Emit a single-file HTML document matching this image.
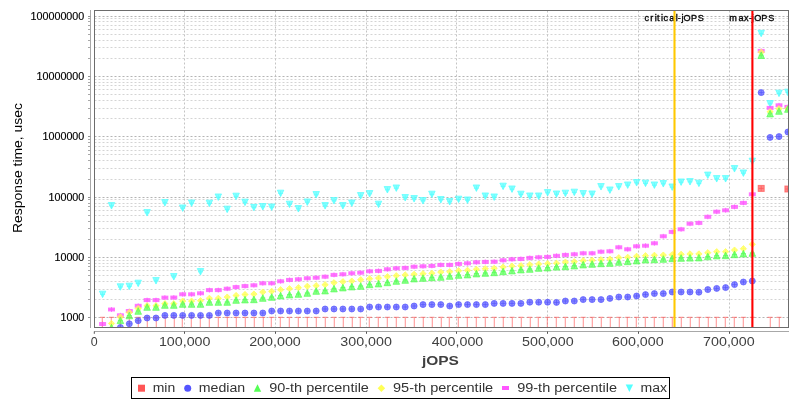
<!DOCTYPE html>
<html><head><meta charset="utf-8"><title>Response time vs jOPS</title>
<style>html,body{margin:0;padding:0;background:#fff;}svg{display:block;}text{font-family:"Liberation Sans",sans-serif;}</style></head><body>
<svg width="800" height="400" viewBox="0 0 800 400" style="will-change:transform">
<rect x="0" y="0" width="800" height="400" fill="#ffffff"/>
<defs><clipPath id="pc"><rect x="94.5" y="10.5" width="694" height="317"/></clipPath></defs>
<g clip-path="url(#pc)" fill="none" stroke-dasharray="2 2" shape-rendering="auto">
<path stroke="#d4d4d4" stroke-width="1" d="M94.5 299.5H788.5M94.5 289.5H788.5M94.5 281.5H788.5M94.5 275.5H788.5M94.5 270.5H788.5M94.5 266.5H788.5M94.5 263.5H788.5M94.5 260.5H788.5M94.5 239.5H788.5M94.5 228.5H788.5M94.5 221.5H788.5M94.5 215.5H788.5M94.5 210.5H788.5M94.5 206.5H788.5M94.5 203.5H788.5M94.5 199.5H788.5M94.5 179.5H788.5M94.5 168.5H788.5M94.5 160.5H788.5M94.5 154.5H788.5M94.5 150.5H788.5M94.5 146.5H788.5M94.5 142.5H788.5M94.5 139.5H788.5M94.5 118.5H788.5M94.5 108.5H788.5M94.5 100.5H788.5M94.5 94.5H788.5M94.5 89.5H788.5M94.5 85.5H788.5M94.5 82.5H788.5M94.5 79.5H788.5M94.5 58.5H788.5M94.5 47.5H788.5M94.5 40.5H788.5M94.5 34.5H788.5M94.5 29.5H788.5M94.5 25.5H788.5M94.5 21.5H788.5M94.5 18.5H788.5"/>
<path stroke="#b4b4b4" stroke-width="1" d="M94.5 317.5H788.5M94.5 257.5H788.5M94.5 197.5H788.5M94.5 136.5H788.5M94.5 76.5H788.5M94.5 16.5H788.5"/>
<path stroke="#c4c4c4" stroke-width="1" d="M184.5 10.5V327.5M275.5 10.5V327.5M366.5 10.5V327.5M456.5 10.5V327.5M547.5 10.5V327.5M638.5 10.5V327.5M729.5 10.5V327.5"/>
</g>
<g font-size="9.1" fill="#000" stroke="#000" stroke-width="0.32">
<text x="644.4 650.3 654.7 657.1 661.1 663.4 669.3 675.8 677.8 681.5 683.4 690.9 697.8" y="20.8">critical-jOPS</text>
<text x="729.2 738.4 744 749.1 751.8 754.2 761.3 768.2" y="20.8">max-jOPS</text>
</g>
<g clip-path="url(#pc)">
<path fill="none" stroke="#55FFFF" stroke-opacity="0.7" stroke-width="1" d="M102.6 291.9V296.9M100.1 294.4H105.1M111.5 203.3V208.3M109 205.8H114M120.4 284.5V289.5M117.9 287H122.9M129.3 283.9V288.9M126.8 286.4H131.8M138.2 280.9V285.9M135.7 283.4H140.7M147.1 210.3V215.3M144.6 212.8H149.6M156 278.3V283.3M153.5 280.8H158.5M164.9 200.3V205.3M162.4 202.8H167.4M173.8 274.3V279.3M171.3 276.8H176.3M182.7 205.7V210.7M180.2 208.2H185.2M191.6 200.7V205.7M189.1 203.2H194.1M200.5 269.3V274.3M198 271.8H203M209.4 200.9V205.9M206.9 203.4H211.9M218.3 194.7V199.7M215.8 197.2H220.8M227.2 206.9V211.9M224.7 209.4H229.7M236.1 193.9V198.9M233.6 196.4H238.6M245 199.9V204.9M242.5 202.4H247.5M253.9 205.1V210.1M251.4 207.6H256.4M262.8 204.3V209.3M260.3 206.8H265.3M271.7 204.7V209.7M269.2 207.2H274.2M280.6 190.9V195.9M278.1 193.4H283.1M289.5 201.9V206.9M287 204.4H292M298.4 206.3V211.3M295.9 208.8H300.9M307.3 199.7V204.7M304.8 202.2H309.8M316.2 192.3V197.3M313.7 194.8H318.7M325.1 203.3V208.3M322.6 205.8H327.6M334 198.3V203.3M331.5 200.8H336.5M342.9 203.3V208.3M340.4 205.8H345.4M351.8 200.7V205.7M349.3 203.2H354.3M360.7 193.3V198.3M358.2 195.8H363.2M369.6 191.3V196.3M367.1 193.8H372.1M378.5 201.9V206.9M376 204.4H381M387.4 187.3V192.3M384.9 189.8H389.9M396.3 185.7V190.7M393.8 188.2H398.8M405.2 195.3V200.3M402.7 197.8H407.7M414.1 196.3V201.3M411.6 198.8H416.6M423 198.3V203.3M420.5 200.8H425.5M431.9 191.9V196.9M429.4 194.4H434.4M440.8 197.3V202.3M438.3 199.8H443.3M449.7 199.3V204.3M447.2 201.8H452.2M458.6 196.9V201.9M456.1 199.4H461.1M467.5 197.7V202.7M465 200.2H470M476.4 185.7V190.7M473.9 188.2H478.9M485.3 193.7V198.7M482.8 196.2H487.8M494.2 194.7V199.7M491.7 197.2H496.7M503.1 183.9V188.9M500.6 186.4H505.6M512 186.7V191.7M509.5 189.2H514.5M520.9 191.9V196.9M518.4 194.4H523.4M529.8 193.7V198.7M527.3 196.2H532.3M538.7 193.7V198.7M536.2 196.2H541.2M547.6 190.3V195.3M545.1 192.8H550.1M556.5 191.7V196.7M554 194.2H559M565.4 190.9V195.9M562.9 193.4H567.9M574.3 189.9V194.9M571.8 192.4H576.8M583.2 191.3V196.3M580.7 193.8H585.7M592.1 191.7V196.7M589.6 194.2H594.6M601 184.3V189.3M598.5 186.8H603.5M609.9 187.7V192.7M607.4 190.2H612.4M618.8 184.3V189.3M616.3 186.8H621.3M627.7 182.7V187.7M625.2 185.2H630.2M636.6 180.3V185.3M634.1 182.8H639.1M645.5 180.9V185.9M643 183.4H648M654.4 182.7V187.7M651.9 185.2H656.9M663.3 181.3V186.3M660.8 183.8H665.8M672.2 184.7V189.7M669.7 187.2H674.7M681.1 179.7V184.7M678.6 182.2H683.6M690 179.3V184.3M687.5 181.8H692.5M698.9 180.9V185.9M696.4 183.4H701.4M707.8 172.8V177.8M705.3 175.3H710.3M716.7 176.3V181.3M714.2 178.8H719.2M725.6 176.3V181.3M723.1 178.8H728.1M734.5 166.3V171.3M732 168.8H737M743.4 170.7V175.7M740.9 173.2H745.9M752.3 158.9V163.9M749.8 161.4H754.8M761.2 31.05V36.05M758.7 33.55H763.7M770.1 101.3V106.3M767.6 103.8H772.6M779 90.9V95.9M776.5 93.4H781.5M787.9 89.9V94.9M785.4 92.4H790.4"/>
<path fill="none" stroke="#FF55FF" stroke-opacity="0.7" stroke-width="1" d="M102.6 321.5V326.5M100.1 324H105.1M111.5 307V312M109 309.5H114M120.4 312.8V317.8M117.9 315.3H122.9M129.3 308.5V313.5M126.8 311H131.8M138.2 303.3V308.3M135.7 305.8H140.7M147.1 297.6V302.6M144.6 300.1H149.6M156 297.6V302.6M153.5 300.1H158.5M164.9 295.1V300.1M162.4 297.6H167.4M173.8 295V300M171.3 297.5H176.3M182.7 291.8V296.8M180.2 294.3H185.2M191.6 291.8V296.8M189.1 294.3H194.1M200.5 290.8V295.8M198 293.3H203M209.4 287.6V292.6M206.9 290.1H211.9M218.3 287.6V292.6M215.8 290.1H220.8M227.2 286.2V291.2M224.7 288.7H229.7M236.1 284.6V289.6M233.6 287.1H238.6M245 283.6V288.6M242.5 286.1H247.5M253.9 282.8V287.8M251.4 285.3H256.4M262.8 280.8V285.8M260.3 283.3H265.3M271.7 280.8V285.8M269.2 283.3H274.2M280.6 278.8V283.8M278.1 281.3H283.1M289.5 277.4V282.4M287 279.9H292M298.4 276.8V281.8M295.9 279.3H300.9M307.3 275.8V280.8M304.8 278.3H309.8M316.2 275.2V280.2M313.7 277.7H318.7M325.1 274.2V279.2M322.6 276.7H327.6M334 272.4V277.4M331.5 274.9H336.5M342.9 271.8V276.8M340.4 274.3H345.4M351.8 270.8V275.8M349.3 273.3H354.3M360.7 270.2V275.2M358.2 272.7H363.2M369.6 268.8V273.8M367.1 271.3H372.1M378.5 268.4V273.4M376 270.9H381M387.4 266.8V271.8M384.9 269.3H389.9M396.3 265.8V270.8M393.8 268.3H398.8M405.2 265.4V270.4M402.7 267.9H407.7M414.1 264.2V269.2M411.6 266.7H416.6M423 263.8V268.8M420.5 266.3H425.5M431.9 263.4V268.4M429.4 265.9H434.4M440.8 262.4V267.4M438.3 264.9H443.3M449.7 262.4V267.4M447.2 264.9H452.2M458.6 261.4V266.4M456.1 263.9H461.1M467.5 260.8V265.8M465 263.3H470M476.4 259.8V264.8M473.9 262.3H478.9M485.3 259.4V264.4M482.8 261.9H487.8M494.2 259.2V264.2M491.7 261.7H496.7M503.1 257.8V262.8M500.6 260.3H505.6M512 256.8V261.8M509.5 259.3H514.5M520.9 256.4V261.4M518.4 258.9H523.4M529.8 255.4V260.4M527.3 257.9H532.3M538.7 254.8V259.8M536.2 257.3H541.2M547.6 254.4V259.4M545.1 256.9H550.1M556.5 253.3V258.3M554 255.8H559M565.4 252.4V257.4M562.9 254.9H567.9M574.3 251.8V256.8M571.8 254.3H576.8M583.2 250.8V255.8M580.7 253.3H585.7M592.1 250.8V255.8M589.6 253.3H594.6M601 249.2V254.2M598.5 251.7H603.5M609.9 248.8V253.8M607.4 251.3H612.4M618.8 244.8V249.8M616.3 247.3H621.3M627.7 246.8V251.8M625.2 249.3H630.2M636.6 243.8V248.8M634.1 246.3H639.1M645.5 243.2V248.2M643 245.7H648M654.4 240.8V245.8M651.9 243.3H656.9M663.3 233.8V238.8M660.8 236.3H665.8M672.2 229.4V234.4M669.7 231.9H674.7M681.1 226.8V231.8M678.6 229.3H683.6M690 221.2V226.2M687.5 223.7H692.5M698.9 220.4V225.4M696.4 222.9H701.4M707.8 214.3V219.3M705.3 216.8H710.3M716.7 209.2V214.2M714.2 211.7H719.2M725.6 207.8V212.8M723.1 210.3H728.1M734.5 204.4V209.4M732 206.9H737M743.4 200.4V205.4M740.9 202.9H745.9M752.3 191.8V196.8M749.8 194.3H754.8M761.2 48.4V53.4M758.7 50.9H763.7M770.1 105.4V110.4M767.6 107.9H772.6M779 102.8V107.8M776.5 105.3H781.5M787.9 104.4V109.4M785.4 106.9H790.4"/>
<path fill="none" stroke="#FFFF55" stroke-opacity="0.7" stroke-width="1" d="M111.5 321V326M109 323.5H114M120.4 314.5V319.5M117.9 317H122.9M129.3 310V315M126.8 312.5H131.8M138.2 306V311M135.7 308.5H140.7M147.1 303.2V308.2M144.6 305.7H149.6M156 303.2V308.2M153.5 305.7H158.5M164.9 301.2V306.2M162.4 303.7H167.4M173.8 301.2V306.2M171.3 303.7H176.3M182.7 298.6V303.6M180.2 301.1H185.2M191.6 298.6V303.6M189.1 301.1H194.1M200.5 298.2V303.2M198 300.7H203M209.4 295.8V300.8M206.9 298.3H211.9M218.3 295.8V300.8M215.8 298.3H220.8M227.2 294.6V299.6M224.7 297.1H229.7M236.1 293V298M233.6 295.5H238.6M245 292V297M242.5 294.5H247.5M253.9 291.6V296.6M251.4 294.1H256.4M262.8 289.6V294.6M260.3 292.1H265.3M271.7 288.8V293.8M269.2 291.3H274.2M280.6 287.2V292.2M278.1 289.7H283.1M289.5 286.2V291.2M287 288.7H292M298.4 285.2V290.2M295.9 287.7H300.9M307.3 283.8V288.8M304.8 286.3H309.8M316.2 283.2V288.2M313.7 285.7H318.7M325.1 282.2V287.2M322.6 284.7H327.6M334 280.2V285.2M331.5 282.7H336.5M342.9 279.2V284.2M340.4 281.7H345.4M351.8 278.6V283.6M349.3 281.1H354.3M360.7 277.2V282.2M358.2 279.7H363.2M369.6 276.2V281.2M367.1 278.7H372.1M378.5 275.6V280.6M376 278.1H381M387.4 274.2V279.2M384.9 276.7H389.9M396.3 273.2V278.2M393.8 275.7H398.8M405.2 272.4V277.4M402.7 274.9H407.7M414.1 271.8V276.8M411.6 274.3H416.6M423 271.2V276.2M420.5 273.7H425.5M431.9 270.8V275.8M429.4 273.3H434.4M440.8 269.6V274.6M438.3 272.1H443.3M449.7 269.2V274.2M447.2 271.7H452.2M458.6 268.2V273.2M456.1 270.7H461.1M467.5 267.8V272.8M465 270.3H470M476.4 266.8V271.8M473.9 269.3H478.9M485.3 266.2V271.2M482.8 268.7H487.8M494.2 265.8V270.8M491.7 268.3H496.7M503.1 264.6V269.6M500.6 267.1H505.6M512 263.6V268.6M509.5 266.1H514.5M520.9 263.2V268.2M518.4 265.7H523.4M529.8 262.2V267.2M527.3 264.7H532.3M538.7 261.6V266.6M536.2 264.1H541.2M547.6 261.2V266.2M545.1 263.7H550.1M556.5 260.7V265.7M554 263.2H559M565.4 259.6V264.6M562.9 262.1H567.9M574.3 259.2V264.2M571.8 261.7H576.8M583.2 258.2V263.2M580.7 260.7H585.7M592.1 257.8V262.8M589.6 260.3H594.6M601 257.2V262.2M598.5 259.7H603.5M609.9 256.6V261.6M607.4 259.1H612.4M618.8 255.2V260.2M616.3 257.7H621.3M627.7 254.8V259.8M625.2 257.3H630.2M636.6 253.8V258.8M634.1 256.3H639.1M645.5 253.2V258.2M643 255.7H648M654.4 252.8V257.8M651.9 255.3H656.9M663.3 252.6V257.6M660.8 255.1H665.8M672.2 252.2V257.2M669.7 254.7H674.7M681.1 251.8V256.8M678.6 254.3H683.6M690 251.4V256.4M687.5 253.9H692.5M698.9 251.4V256.4M696.4 253.9H701.4M707.8 250.2V255.2M705.3 252.7H710.3M716.7 249.2V254.2M714.2 251.7H719.2M725.6 249.2V254.2M723.1 251.7H728.1M734.5 247.6V252.6M732 250.1H737M743.4 246.2V251.2M740.9 248.7H745.9M752.3 241.8V246.8M749.8 244.3H754.8M761.2 49.7V54.7M758.7 52.2H763.7M770.1 109.2V114.2M767.6 111.7H772.6M779 106.2V111.2M776.5 108.7H781.5M787.9 106.2V111.2M785.4 108.7H790.4"/>
<path fill="none" stroke="#55FF55" stroke-opacity="0.7" stroke-width="1" d="M111.5 325V330M109 327.5H114M120.4 317.8V322.8M117.9 320.3H122.9M129.3 313V318M126.8 315.5H131.8M138.2 308.5V313.5M135.7 311H140.7M147.1 304.5V309.5M144.6 307H149.6M156 304.5V309.5M153.5 307H158.5M164.9 302.5V307.5M162.4 305H167.4M173.8 302.5V307.5M171.3 305H176.3M182.7 301.5V306.5M180.2 304H185.2M191.6 301.5V306.5M189.1 304H194.1M200.5 301.5V306.5M198 304H203M209.4 299.5V304.5M206.9 302H211.9M218.3 299.5V304.5M215.8 302H220.8M227.2 299.5V304.5M224.7 302H229.7M236.1 297.5V302.5M233.6 300H238.6M245 297.1V302.1M242.5 299.6H247.5M253.9 296.9V301.9M251.4 299.4H256.4M262.8 295.5V300.5M260.3 298H265.3M271.7 294.5V299.5M269.2 297H274.2M280.6 293.1V298.1M278.1 295.6H283.1M289.5 292.1V297.1M287 294.6H292M298.4 291.5V296.5M295.9 294H300.9M307.3 290.5V295.5M304.8 293H309.8M316.2 288.5V293.5M313.7 291H318.7M325.1 288.1V293.1M322.6 290.6H327.6M334 286.1V291.1M331.5 288.6H336.5M342.9 285.1V290.1M340.4 287.6H345.4M351.8 284.1V289.1M349.3 286.6H354.3M360.7 283.5V288.5M358.2 286H363.2M369.6 281.9V286.9M367.1 284.4H372.1M378.5 281.1V286.1M376 283.6H381M387.4 279.9V284.9M384.9 282.4H389.9M396.3 278.5V283.5M393.8 281H398.8M405.2 277.5V282.5M402.7 280H407.7M414.1 276.1V281.1M411.6 278.6H416.6M423 275.5V280.5M420.5 278H425.5M431.9 274.9V279.9M429.4 277.4H434.4M440.8 274.5V279.5M438.3 277H443.3M449.7 273.5V278.5M447.2 276H452.2M458.6 272.5V277.5M456.1 275H461.1M467.5 272.1V277.1M465 274.6H470M476.4 271.1V276.1M473.9 273.6H478.9M485.3 270.5V275.5M482.8 273H487.8M494.2 269.9V274.9M491.7 272.4H496.7M503.1 268.9V273.9M500.6 271.4H505.6M512 268.1V273.1M509.5 270.6H514.5M520.9 267.1V272.1M518.4 269.6H523.4M529.8 266.5V271.5M527.3 269H532.3M538.7 265.5V270.5M536.2 268H541.2M547.6 265.1V270.1M545.1 267.6H550.1M556.5 264.3V269.3M554 266.8H559M565.4 263.9V268.9M562.9 266.4H567.9M574.3 263.1V268.1M571.8 265.6H576.8M583.2 262.1V267.1M580.7 264.6H585.7M592.1 261.5V266.5M589.6 264H594.6M601 260.9V265.9M598.5 263.4H603.5M609.9 260.5V265.5M607.4 263H612.4M618.8 259.5V264.5M616.3 262H621.3M627.7 258.9V263.9M625.2 261.4H630.2M636.6 258.1V263.1M634.1 260.6H639.1M645.5 257.1V262.1M643 259.6H648M654.4 256.9V261.9M651.9 259.4H656.9M663.3 256.5V261.5M660.8 259H665.8M672.2 255.9V260.9M669.7 258.4H674.7M681.1 255.5V260.5M678.6 258H683.6M690 255.3V260.3M687.5 257.8H692.5M698.9 255.1V260.1M696.4 257.6H701.4M707.8 254V259M705.3 256.5H710.3M716.7 253.1V258.1M714.2 255.6H719.2M725.6 252.9V257.9M723.1 255.4H728.1M734.5 251.9V256.9M732 254.4H737M743.4 251.1V256.1M740.9 253.6H745.9M752.3 250.5V255.5M749.8 253H754.8M761.2 52.7V57.7M758.7 55.2H763.7M770.1 111.1V116.1M767.6 113.6H772.6M779 108.5V113.5M776.5 111H781.5M787.9 106.5V111.5M785.4 109H790.4"/>
<path fill="none" stroke="#5555FF" stroke-opacity="0.7" stroke-width="1" d="M120.4 325V330M117.9 327.5H122.9M129.3 321.3V326.3M126.8 323.8H131.8M138.2 318.2V323.2M135.7 320.7H140.7M147.1 315.5V320.5M144.6 318H149.6M156 315.5V320.5M153.5 318H158.5M164.9 312.9V317.9M162.4 315.4H167.4M173.8 312.9V317.9M171.3 315.4H176.3M182.7 312.9V317.9M180.2 315.4H185.2M191.6 312.9V317.9M189.1 315.4H194.1M200.5 312.9V317.9M198 315.4H203M209.4 312.9V317.9M206.9 315.4H211.9M218.3 310.5V315.5M215.8 313H220.8M227.2 310.5V315.5M224.7 313H229.7M236.1 310.5V315.5M233.6 313H238.6M245 310.5V315.5M242.5 313H247.5M253.9 310.5V315.5M251.4 313H256.4M262.8 310.5V315.5M260.3 313H265.3M271.7 308.5V313.5M269.2 311H274.2M280.6 308.5V313.5M278.1 311H283.1M289.5 308.5V313.5M287 311H292M298.4 308.5V313.5M295.9 311H300.9M307.3 308.5V313.5M304.8 311H309.8M316.2 308.5V313.5M313.7 311H318.7M325.1 306.5V311.5M322.6 309H327.6M334 306.5V311.5M331.5 309H336.5M342.9 306.5V311.5M340.4 309H345.4M351.8 306.5V311.5M349.3 309H354.3M360.7 306.5V311.5M358.2 309H363.2M369.6 304.5V309.5M367.1 307H372.1M378.5 304.5V309.5M376 307H381M387.4 304.5V309.5M384.9 307H389.9M396.3 304.5V309.5M393.8 307H398.8M405.2 304.5V309.5M402.7 307H407.7M414.1 303.5V308.5M411.6 306H416.6M423 302.1V307.1M420.5 304.6H425.5M431.9 302.1V307.1M429.4 304.6H434.4M440.8 302.1V307.1M438.3 304.6H443.3M449.7 303.5V308.5M447.2 306H452.2M458.6 302.1V307.1M456.1 304.6H461.1M467.5 302.1V307.1M465 304.6H470M476.4 302.1V307.1M473.9 304.6H478.9M485.3 302.1V307.1M482.8 304.6H487.8M494.2 300.9V305.9M491.7 303.4H496.7M503.1 300.9V305.9M500.6 303.4H505.6M512 300.9V305.9M509.5 303.4H514.5M520.9 300.9V305.9M518.4 303.4H523.4M529.8 299.7V304.7M527.3 302.2H532.3M538.7 299.7V304.7M536.2 302.2H541.2M547.6 299.7V304.7M545.1 302.2H550.1M556.5 299.9V304.9M554 302.4H559M565.4 298.5V303.5M562.9 301H567.9M574.3 298.5V303.5M571.8 301H576.8M583.2 297.1V302.1M580.7 299.6H585.7M592.1 297.1V302.1M589.6 299.6H594.6M601 297.1V302.1M598.5 299.6H603.5M609.9 295.9V300.9M607.4 298.4H612.4M618.8 294.5V299.5M616.3 297H621.3M627.7 294.5V299.5M625.2 297H630.2M636.6 293.5V298.5M634.1 296H639.1M645.5 292.1V297.1M643 294.6H648M654.4 291.1V296.1M651.9 293.6H656.9M663.3 291.1V296.1M660.8 293.6H665.8M672.2 289.5V294.5M669.7 292H674.7M681.1 289.5V294.5M678.6 292H683.6M690 289.5V294.5M687.5 292H692.5M698.9 289.7V294.7M696.4 292.2H701.4M707.8 287.1V292.1M705.3 289.6H710.3M716.7 285.9V290.9M714.2 288.4H719.2M725.6 285.1V290.1M723.1 287.6H728.1M734.5 282.1V287.1M732 284.6H737M743.4 279.5V284.5M740.9 282H745.9M752.3 278.5V283.5M749.8 281H754.8M761.2 90.1V95.1M758.7 92.6H763.7M770.1 134.9V139.9M767.6 137.4H772.6M779 134.1V139.1M776.5 136.6H781.5M787.9 129.5V134.5M785.4 132H790.4"/>
<path fill="none" stroke="#FF5555" stroke-opacity="0.6" stroke-width="1.1" d="M100.1 317.4H105.1M102.3 317.4V327.5M109 317.4H114M111.3 317.4V327.5M117.9 317.4H122.9M120.3 317.4V327.5M126.8 317.4H131.8M129.3 317.4V327.5M135.7 317.4H140.7M138.3 317.4V327.5M144.6 317.4H149.6M147.3 317.4V327.5M153.5 317.4H158.5M156.3 317.4V327.5M162.4 317.4H167.4M165.3 317.4V327.5M171.3 317.4H176.3M174.3 317.4V327.5M180.2 317.4H185.2M182.3 317.4V327.5M189.1 317.4H194.1M191.3 317.4V327.5M198 317.4H203M200.3 317.4V327.5M206.9 317.4H211.9M209.3 317.4V327.5M215.8 317.4H220.8M218.3 317.4V327.5M224.7 317.4H229.7M227.3 317.4V327.5M233.6 317.4H238.6M236.3 317.4V327.5M242.5 317.4H247.5M245.3 317.4V327.5M251.4 317.4H256.4M254.3 317.4V327.5M260.3 317.4H265.3M263.3 317.4V327.5M269.2 317.4H274.2M271.3 317.4V327.5M278.1 317.4H283.1M280.3 317.4V327.5M287 317.4H292M289.3 317.4V327.5M295.9 317.4H300.9M298.3 317.4V327.5M304.8 317.4H309.8M307.3 317.4V327.5M313.7 317.4H318.7M316.3 317.4V327.5M322.6 317.4H327.6M325.3 317.4V327.5M331.5 317.4H336.5M334.3 317.4V327.5M340.4 317.4H345.4M343.3 317.4V327.5M349.3 317.4H354.3M352.3 317.4V327.5M358.2 317.4H363.2M360.3 317.4V327.5M367.1 317.4H372.1M369.3 317.4V327.5M376 317.4H381M378.3 317.4V327.5M384.9 317.4H389.9M387.3 317.4V327.5M393.8 317.4H398.8M396.3 317.4V327.5M402.7 317.4H407.7M405.3 317.4V327.5M411.6 317.4H416.6M414.3 317.4V327.5M420.5 317.4H425.5M423.3 317.4V327.5M429.4 317.4H434.4M432.3 317.4V327.5M438.3 317.4H443.3M441.3 317.4V327.5M447.2 317.4H452.2M449.3 317.4V327.5M456.1 317.4H461.1M458.3 317.4V327.5M465 317.4H470M467.3 317.4V327.5M473.9 317.4H478.9M476.3 317.4V327.5M482.8 317.4H487.8M485.3 317.4V327.5M491.7 317.4H496.7M494.3 317.4V327.5M500.6 317.4H505.6M503.3 317.4V327.5M509.5 317.4H514.5M512.3 317.4V327.5M518.4 317.4H523.4M521.3 317.4V327.5M527.3 317.4H532.3M530.3 317.4V327.5M536.2 317.4H541.2M538.3 317.4V327.5M545.1 317.4H550.1M547.3 317.4V327.5M554 317.4H559M556.3 317.4V327.5M562.9 317.4H567.9M565.3 317.4V327.5M571.8 317.4H576.8M574.3 317.4V327.5M580.7 317.4H585.7M583.3 317.4V327.5M589.6 317.4H594.6M592.3 317.4V327.5M598.5 317.4H603.5M601.3 317.4V327.5M607.4 317.4H612.4M610.3 317.4V327.5M616.3 317.4H621.3M619.3 317.4V327.5M625.2 317.4H630.2M627.3 317.4V327.5M634.1 317.4H639.1M636.3 317.4V327.5M643 317.4H648M645.3 317.4V327.5M651.9 317.4H656.9M654.3 317.4V327.5M660.8 317.4H665.8M663.3 317.4V327.5M669.7 317.4H674.7M672.3 317.4V327.5M678.6 317.4H683.6M681.3 317.4V327.5M687.5 317.4H692.5M690.3 317.4V327.5M696.4 317.4H701.4M699.3 317.4V327.5M705.3 317.4H710.3M708.3 317.4V327.5M714.2 317.4H719.2M716.3 317.4V327.5M723.1 317.4H728.1M725.3 317.4V327.5M732 317.4H737M734.3 317.4V327.5M740.9 317.4H745.9M743.3 317.4V327.5M749.8 317.4H754.8M752.3 317.4V327.5M767.6 317.4H772.6M770.3 317.4V327.5M776.5 317.4H781.5M779.3 317.4V327.5"/>
<path fill="none" stroke="#FF5555" stroke-opacity="0.7" stroke-width="1" d="M761.2 185.9V190.9M758.7 188.4H763.7M787.9 186.5V191.5M785.4 189H790.4"/>
<g fill="#55FFFF" fill-opacity="0.7" stroke="#55FFFF" stroke-opacity="0.7" stroke-width="1">
<path d="M99.35 291.15L105.85 291.15L102.6 297.65Z"/>
<path d="M108.25 202.55L114.75 202.55L111.5 209.05Z"/>
<path d="M117.15 283.75L123.65 283.75L120.4 290.25Z"/>
<path d="M126.05 283.15L132.55 283.15L129.3 289.65Z"/>
<path d="M134.95 280.15L141.45 280.15L138.2 286.65Z"/>
<path d="M143.85 209.55L150.35 209.55L147.1 216.05Z"/>
<path d="M152.75 277.55L159.25 277.55L156 284.05Z"/>
<path d="M161.65 199.55L168.15 199.55L164.9 206.05Z"/>
<path d="M170.55 273.55L177.05 273.55L173.8 280.05Z"/>
<path d="M179.45 204.95L185.95 204.95L182.7 211.45Z"/>
<path d="M188.35 199.95L194.85 199.95L191.6 206.45Z"/>
<path d="M197.25 268.55L203.75 268.55L200.5 275.05Z"/>
<path d="M206.15 200.15L212.65 200.15L209.4 206.65Z"/>
<path d="M215.05 193.95L221.55 193.95L218.3 200.45Z"/>
<path d="M223.95 206.15L230.45 206.15L227.2 212.65Z"/>
<path d="M232.85 193.15L239.35 193.15L236.1 199.65Z"/>
<path d="M241.75 199.15L248.25 199.15L245 205.65Z"/>
<path d="M250.65 204.35L257.15 204.35L253.9 210.85Z"/>
<path d="M259.55 203.55L266.05 203.55L262.8 210.05Z"/>
<path d="M268.45 203.95L274.95 203.95L271.7 210.45Z"/>
<path d="M277.35 190.15L283.85 190.15L280.6 196.65Z"/>
<path d="M286.25 201.15L292.75 201.15L289.5 207.65Z"/>
<path d="M295.15 205.55L301.65 205.55L298.4 212.05Z"/>
<path d="M304.05 198.95L310.55 198.95L307.3 205.45Z"/>
<path d="M312.95 191.55L319.45 191.55L316.2 198.05Z"/>
<path d="M321.85 202.55L328.35 202.55L325.1 209.05Z"/>
<path d="M330.75 197.55L337.25 197.55L334 204.05Z"/>
<path d="M339.65 202.55L346.15 202.55L342.9 209.05Z"/>
<path d="M348.55 199.95L355.05 199.95L351.8 206.45Z"/>
<path d="M357.45 192.55L363.95 192.55L360.7 199.05Z"/>
<path d="M366.35 190.55L372.85 190.55L369.6 197.05Z"/>
<path d="M375.25 201.15L381.75 201.15L378.5 207.65Z"/>
<path d="M384.15 186.55L390.65 186.55L387.4 193.05Z"/>
<path d="M393.05 184.95L399.55 184.95L396.3 191.45Z"/>
<path d="M401.95 194.55L408.45 194.55L405.2 201.05Z"/>
<path d="M410.85 195.55L417.35 195.55L414.1 202.05Z"/>
<path d="M419.75 197.55L426.25 197.55L423 204.05Z"/>
<path d="M428.65 191.15L435.15 191.15L431.9 197.65Z"/>
<path d="M437.55 196.55L444.05 196.55L440.8 203.05Z"/>
<path d="M446.45 198.55L452.95 198.55L449.7 205.05Z"/>
<path d="M455.35 196.15L461.85 196.15L458.6 202.65Z"/>
<path d="M464.25 196.95L470.75 196.95L467.5 203.45Z"/>
<path d="M473.15 184.95L479.65 184.95L476.4 191.45Z"/>
<path d="M482.05 192.95L488.55 192.95L485.3 199.45Z"/>
<path d="M490.95 193.95L497.45 193.95L494.2 200.45Z"/>
<path d="M499.85 183.15L506.35 183.15L503.1 189.65Z"/>
<path d="M508.75 185.95L515.25 185.95L512 192.45Z"/>
<path d="M517.65 191.15L524.15 191.15L520.9 197.65Z"/>
<path d="M526.55 192.95L533.05 192.95L529.8 199.45Z"/>
<path d="M535.45 192.95L541.95 192.95L538.7 199.45Z"/>
<path d="M544.35 189.55L550.85 189.55L547.6 196.05Z"/>
<path d="M553.25 190.95L559.75 190.95L556.5 197.45Z"/>
<path d="M562.15 190.15L568.65 190.15L565.4 196.65Z"/>
<path d="M571.05 189.15L577.55 189.15L574.3 195.65Z"/>
<path d="M579.95 190.55L586.45 190.55L583.2 197.05Z"/>
<path d="M588.85 190.95L595.35 190.95L592.1 197.45Z"/>
<path d="M597.75 183.55L604.25 183.55L601 190.05Z"/>
<path d="M606.65 186.95L613.15 186.95L609.9 193.45Z"/>
<path d="M615.55 183.55L622.05 183.55L618.8 190.05Z"/>
<path d="M624.45 181.95L630.95 181.95L627.7 188.45Z"/>
<path d="M633.35 179.55L639.85 179.55L636.6 186.05Z"/>
<path d="M642.25 180.15L648.75 180.15L645.5 186.65Z"/>
<path d="M651.15 181.95L657.65 181.95L654.4 188.45Z"/>
<path d="M660.05 180.55L666.55 180.55L663.3 187.05Z"/>
<path d="M668.95 183.95L675.45 183.95L672.2 190.45Z"/>
<path d="M677.85 178.95L684.35 178.95L681.1 185.45Z"/>
<path d="M686.75 178.55L693.25 178.55L690 185.05Z"/>
<path d="M695.65 180.15L702.15 180.15L698.9 186.65Z"/>
<path d="M704.55 172.05L711.05 172.05L707.8 178.55Z"/>
<path d="M713.45 175.55L719.95 175.55L716.7 182.05Z"/>
<path d="M722.35 175.55L728.85 175.55L725.6 182.05Z"/>
<path d="M731.25 165.55L737.75 165.55L734.5 172.05Z"/>
<path d="M740.15 169.95L746.65 169.95L743.4 176.45Z"/>
<path d="M749.05 158.15L755.55 158.15L752.3 164.65Z"/>
<path d="M757.95 30.3L764.45 30.3L761.2 36.8Z"/>
<path d="M766.85 100.55L773.35 100.55L770.1 107.05Z"/>
<path d="M775.75 90.15L782.25 90.15L779 96.65Z"/>
<path d="M784.65 89.15L791.15 89.15L787.9 95.65Z"/>
</g>
<g fill="#FF55FF" fill-opacity="0.7" stroke="#FF55FF" stroke-opacity="0.7" stroke-width="1">
<rect x="99.6" y="322.5" width="6" height="3"/>
<rect x="108.5" y="308" width="6" height="3"/>
<rect x="117.4" y="313.8" width="6" height="3"/>
<rect x="126.3" y="309.5" width="6" height="3"/>
<rect x="135.2" y="304.3" width="6" height="3"/>
<rect x="144.1" y="298.6" width="6" height="3"/>
<rect x="153" y="298.6" width="6" height="3"/>
<rect x="161.9" y="296.1" width="6" height="3"/>
<rect x="170.8" y="296" width="6" height="3"/>
<rect x="179.7" y="292.8" width="6" height="3"/>
<rect x="188.6" y="292.8" width="6" height="3"/>
<rect x="197.5" y="291.8" width="6" height="3"/>
<rect x="206.4" y="288.6" width="6" height="3"/>
<rect x="215.3" y="288.6" width="6" height="3"/>
<rect x="224.2" y="287.2" width="6" height="3"/>
<rect x="233.1" y="285.6" width="6" height="3"/>
<rect x="242" y="284.6" width="6" height="3"/>
<rect x="250.9" y="283.8" width="6" height="3"/>
<rect x="259.8" y="281.8" width="6" height="3"/>
<rect x="268.7" y="281.8" width="6" height="3"/>
<rect x="277.6" y="279.8" width="6" height="3"/>
<rect x="286.5" y="278.4" width="6" height="3"/>
<rect x="295.4" y="277.8" width="6" height="3"/>
<rect x="304.3" y="276.8" width="6" height="3"/>
<rect x="313.2" y="276.2" width="6" height="3"/>
<rect x="322.1" y="275.2" width="6" height="3"/>
<rect x="331" y="273.4" width="6" height="3"/>
<rect x="339.9" y="272.8" width="6" height="3"/>
<rect x="348.8" y="271.8" width="6" height="3"/>
<rect x="357.7" y="271.2" width="6" height="3"/>
<rect x="366.6" y="269.8" width="6" height="3"/>
<rect x="375.5" y="269.4" width="6" height="3"/>
<rect x="384.4" y="267.8" width="6" height="3"/>
<rect x="393.3" y="266.8" width="6" height="3"/>
<rect x="402.2" y="266.4" width="6" height="3"/>
<rect x="411.1" y="265.2" width="6" height="3"/>
<rect x="420" y="264.8" width="6" height="3"/>
<rect x="428.9" y="264.4" width="6" height="3"/>
<rect x="437.8" y="263.4" width="6" height="3"/>
<rect x="446.7" y="263.4" width="6" height="3"/>
<rect x="455.6" y="262.4" width="6" height="3"/>
<rect x="464.5" y="261.8" width="6" height="3"/>
<rect x="473.4" y="260.8" width="6" height="3"/>
<rect x="482.3" y="260.4" width="6" height="3"/>
<rect x="491.2" y="260.2" width="6" height="3"/>
<rect x="500.1" y="258.8" width="6" height="3"/>
<rect x="509" y="257.8" width="6" height="3"/>
<rect x="517.9" y="257.4" width="6" height="3"/>
<rect x="526.8" y="256.4" width="6" height="3"/>
<rect x="535.7" y="255.8" width="6" height="3"/>
<rect x="544.6" y="255.4" width="6" height="3"/>
<rect x="553.5" y="254.3" width="6" height="3"/>
<rect x="562.4" y="253.4" width="6" height="3"/>
<rect x="571.3" y="252.8" width="6" height="3"/>
<rect x="580.2" y="251.8" width="6" height="3"/>
<rect x="589.1" y="251.8" width="6" height="3"/>
<rect x="598" y="250.2" width="6" height="3"/>
<rect x="606.9" y="249.8" width="6" height="3"/>
<rect x="615.8" y="245.8" width="6" height="3"/>
<rect x="624.7" y="247.8" width="6" height="3"/>
<rect x="633.6" y="244.8" width="6" height="3"/>
<rect x="642.5" y="244.2" width="6" height="3"/>
<rect x="651.4" y="241.8" width="6" height="3"/>
<rect x="660.3" y="234.8" width="6" height="3"/>
<rect x="669.2" y="230.4" width="6" height="3"/>
<rect x="678.1" y="227.8" width="6" height="3"/>
<rect x="687" y="222.2" width="6" height="3"/>
<rect x="695.9" y="221.4" width="6" height="3"/>
<rect x="704.8" y="215.3" width="6" height="3"/>
<rect x="713.7" y="210.2" width="6" height="3"/>
<rect x="722.6" y="208.8" width="6" height="3"/>
<rect x="731.5" y="205.4" width="6" height="3"/>
<rect x="740.4" y="201.4" width="6" height="3"/>
<rect x="749.3" y="192.8" width="6" height="3"/>
<rect x="758.2" y="49.4" width="6" height="3"/>
<rect x="767.1" y="106.4" width="6" height="3"/>
<rect x="776" y="103.8" width="6" height="3"/>
<rect x="784.9" y="105.4" width="6" height="3"/>
</g>
<g fill="#FFFF55" fill-opacity="0.7" stroke="#FFFF55" stroke-opacity="0.7" stroke-width="1">
<path d="M111.5 320.35L114.65 323.5L111.5 326.65L108.35 323.5Z"/>
<path d="M120.4 313.85L123.55 317L120.4 320.15L117.25 317Z"/>
<path d="M129.3 309.35L132.45 312.5L129.3 315.65L126.15 312.5Z"/>
<path d="M138.2 305.35L141.35 308.5L138.2 311.65L135.05 308.5Z"/>
<path d="M147.1 302.55L150.25 305.7L147.1 308.85L143.95 305.7Z"/>
<path d="M156 302.55L159.15 305.7L156 308.85L152.85 305.7Z"/>
<path d="M164.9 300.55L168.05 303.7L164.9 306.85L161.75 303.7Z"/>
<path d="M173.8 300.55L176.95 303.7L173.8 306.85L170.65 303.7Z"/>
<path d="M182.7 297.95L185.85 301.1L182.7 304.25L179.55 301.1Z"/>
<path d="M191.6 297.95L194.75 301.1L191.6 304.25L188.45 301.1Z"/>
<path d="M200.5 297.55L203.65 300.7L200.5 303.85L197.35 300.7Z"/>
<path d="M209.4 295.15L212.55 298.3L209.4 301.45L206.25 298.3Z"/>
<path d="M218.3 295.15L221.45 298.3L218.3 301.45L215.15 298.3Z"/>
<path d="M227.2 293.95L230.35 297.1L227.2 300.25L224.05 297.1Z"/>
<path d="M236.1 292.35L239.25 295.5L236.1 298.65L232.95 295.5Z"/>
<path d="M245 291.35L248.15 294.5L245 297.65L241.85 294.5Z"/>
<path d="M253.9 290.95L257.05 294.1L253.9 297.25L250.75 294.1Z"/>
<path d="M262.8 288.95L265.95 292.1L262.8 295.25L259.65 292.1Z"/>
<path d="M271.7 288.15L274.85 291.3L271.7 294.45L268.55 291.3Z"/>
<path d="M280.6 286.55L283.75 289.7L280.6 292.85L277.45 289.7Z"/>
<path d="M289.5 285.55L292.65 288.7L289.5 291.85L286.35 288.7Z"/>
<path d="M298.4 284.55L301.55 287.7L298.4 290.85L295.25 287.7Z"/>
<path d="M307.3 283.15L310.45 286.3L307.3 289.45L304.15 286.3Z"/>
<path d="M316.2 282.55L319.35 285.7L316.2 288.85L313.05 285.7Z"/>
<path d="M325.1 281.55L328.25 284.7L325.1 287.85L321.95 284.7Z"/>
<path d="M334 279.55L337.15 282.7L334 285.85L330.85 282.7Z"/>
<path d="M342.9 278.55L346.05 281.7L342.9 284.85L339.75 281.7Z"/>
<path d="M351.8 277.95L354.95 281.1L351.8 284.25L348.65 281.1Z"/>
<path d="M360.7 276.55L363.85 279.7L360.7 282.85L357.55 279.7Z"/>
<path d="M369.6 275.55L372.75 278.7L369.6 281.85L366.45 278.7Z"/>
<path d="M378.5 274.95L381.65 278.1L378.5 281.25L375.35 278.1Z"/>
<path d="M387.4 273.55L390.55 276.7L387.4 279.85L384.25 276.7Z"/>
<path d="M396.3 272.55L399.45 275.7L396.3 278.85L393.15 275.7Z"/>
<path d="M405.2 271.75L408.35 274.9L405.2 278.05L402.05 274.9Z"/>
<path d="M414.1 271.15L417.25 274.3L414.1 277.45L410.95 274.3Z"/>
<path d="M423 270.55L426.15 273.7L423 276.85L419.85 273.7Z"/>
<path d="M431.9 270.15L435.05 273.3L431.9 276.45L428.75 273.3Z"/>
<path d="M440.8 268.95L443.95 272.1L440.8 275.25L437.65 272.1Z"/>
<path d="M449.7 268.55L452.85 271.7L449.7 274.85L446.55 271.7Z"/>
<path d="M458.6 267.55L461.75 270.7L458.6 273.85L455.45 270.7Z"/>
<path d="M467.5 267.15L470.65 270.3L467.5 273.45L464.35 270.3Z"/>
<path d="M476.4 266.15L479.55 269.3L476.4 272.45L473.25 269.3Z"/>
<path d="M485.3 265.55L488.45 268.7L485.3 271.85L482.15 268.7Z"/>
<path d="M494.2 265.15L497.35 268.3L494.2 271.45L491.05 268.3Z"/>
<path d="M503.1 263.95L506.25 267.1L503.1 270.25L499.95 267.1Z"/>
<path d="M512 262.95L515.15 266.1L512 269.25L508.85 266.1Z"/>
<path d="M520.9 262.55L524.05 265.7L520.9 268.85L517.75 265.7Z"/>
<path d="M529.8 261.55L532.95 264.7L529.8 267.85L526.65 264.7Z"/>
<path d="M538.7 260.95L541.85 264.1L538.7 267.25L535.55 264.1Z"/>
<path d="M547.6 260.55L550.75 263.7L547.6 266.85L544.45 263.7Z"/>
<path d="M556.5 260.05L559.65 263.2L556.5 266.35L553.35 263.2Z"/>
<path d="M565.4 258.95L568.55 262.1L565.4 265.25L562.25 262.1Z"/>
<path d="M574.3 258.55L577.45 261.7L574.3 264.85L571.15 261.7Z"/>
<path d="M583.2 257.55L586.35 260.7L583.2 263.85L580.05 260.7Z"/>
<path d="M592.1 257.15L595.25 260.3L592.1 263.45L588.95 260.3Z"/>
<path d="M601 256.55L604.15 259.7L601 262.85L597.85 259.7Z"/>
<path d="M609.9 255.95L613.05 259.1L609.9 262.25L606.75 259.1Z"/>
<path d="M618.8 254.55L621.95 257.7L618.8 260.85L615.65 257.7Z"/>
<path d="M627.7 254.15L630.85 257.3L627.7 260.45L624.55 257.3Z"/>
<path d="M636.6 253.15L639.75 256.3L636.6 259.45L633.45 256.3Z"/>
<path d="M645.5 252.55L648.65 255.7L645.5 258.85L642.35 255.7Z"/>
<path d="M654.4 252.15L657.55 255.3L654.4 258.45L651.25 255.3Z"/>
<path d="M663.3 251.95L666.45 255.1L663.3 258.25L660.15 255.1Z"/>
<path d="M672.2 251.55L675.35 254.7L672.2 257.85L669.05 254.7Z"/>
<path d="M681.1 251.15L684.25 254.3L681.1 257.45L677.95 254.3Z"/>
<path d="M690 250.75L693.15 253.9L690 257.05L686.85 253.9Z"/>
<path d="M698.9 250.75L702.05 253.9L698.9 257.05L695.75 253.9Z"/>
<path d="M707.8 249.55L710.95 252.7L707.8 255.85L704.65 252.7Z"/>
<path d="M716.7 248.55L719.85 251.7L716.7 254.85L713.55 251.7Z"/>
<path d="M725.6 248.55L728.75 251.7L725.6 254.85L722.45 251.7Z"/>
<path d="M734.5 246.95L737.65 250.1L734.5 253.25L731.35 250.1Z"/>
<path d="M743.4 245.55L746.55 248.7L743.4 251.85L740.25 248.7Z"/>
<path d="M752.3 241.15L755.45 244.3L752.3 247.45L749.15 244.3Z"/>
<path d="M761.2 49.05L764.35 52.2L761.2 55.35L758.05 52.2Z"/>
<path d="M770.1 108.55L773.25 111.7L770.1 114.85L766.95 111.7Z"/>
<path d="M779 105.55L782.15 108.7L779 111.85L775.85 108.7Z"/>
<path d="M787.9 105.55L791.05 108.7L787.9 111.85L784.75 108.7Z"/>
</g>
<g fill="#55FF55" fill-opacity="0.7" stroke="#55FF55" stroke-opacity="0.7" stroke-width="1">
<path d="M111.5 324.2L114.8 330.8L108.2 330.8Z"/>
<path d="M120.4 317L123.7 323.6L117.1 323.6Z"/>
<path d="M129.3 312.2L132.6 318.8L126 318.8Z"/>
<path d="M138.2 307.7L141.5 314.3L134.9 314.3Z"/>
<path d="M147.1 303.7L150.4 310.3L143.8 310.3Z"/>
<path d="M156 303.7L159.3 310.3L152.7 310.3Z"/>
<path d="M164.9 301.7L168.2 308.3L161.6 308.3Z"/>
<path d="M173.8 301.7L177.1 308.3L170.5 308.3Z"/>
<path d="M182.7 300.7L186 307.3L179.4 307.3Z"/>
<path d="M191.6 300.7L194.9 307.3L188.3 307.3Z"/>
<path d="M200.5 300.7L203.8 307.3L197.2 307.3Z"/>
<path d="M209.4 298.7L212.7 305.3L206.1 305.3Z"/>
<path d="M218.3 298.7L221.6 305.3L215 305.3Z"/>
<path d="M227.2 298.7L230.5 305.3L223.9 305.3Z"/>
<path d="M236.1 296.7L239.4 303.3L232.8 303.3Z"/>
<path d="M245 296.3L248.3 302.9L241.7 302.9Z"/>
<path d="M253.9 296.1L257.2 302.7L250.6 302.7Z"/>
<path d="M262.8 294.7L266.1 301.3L259.5 301.3Z"/>
<path d="M271.7 293.7L275 300.3L268.4 300.3Z"/>
<path d="M280.6 292.3L283.9 298.9L277.3 298.9Z"/>
<path d="M289.5 291.3L292.8 297.9L286.2 297.9Z"/>
<path d="M298.4 290.7L301.7 297.3L295.1 297.3Z"/>
<path d="M307.3 289.7L310.6 296.3L304 296.3Z"/>
<path d="M316.2 287.7L319.5 294.3L312.9 294.3Z"/>
<path d="M325.1 287.3L328.4 293.9L321.8 293.9Z"/>
<path d="M334 285.3L337.3 291.9L330.7 291.9Z"/>
<path d="M342.9 284.3L346.2 290.9L339.6 290.9Z"/>
<path d="M351.8 283.3L355.1 289.9L348.5 289.9Z"/>
<path d="M360.7 282.7L364 289.3L357.4 289.3Z"/>
<path d="M369.6 281.1L372.9 287.7L366.3 287.7Z"/>
<path d="M378.5 280.3L381.8 286.9L375.2 286.9Z"/>
<path d="M387.4 279.1L390.7 285.7L384.1 285.7Z"/>
<path d="M396.3 277.7L399.6 284.3L393 284.3Z"/>
<path d="M405.2 276.7L408.5 283.3L401.9 283.3Z"/>
<path d="M414.1 275.3L417.4 281.9L410.8 281.9Z"/>
<path d="M423 274.7L426.3 281.3L419.7 281.3Z"/>
<path d="M431.9 274.1L435.2 280.7L428.6 280.7Z"/>
<path d="M440.8 273.7L444.1 280.3L437.5 280.3Z"/>
<path d="M449.7 272.7L453 279.3L446.4 279.3Z"/>
<path d="M458.6 271.7L461.9 278.3L455.3 278.3Z"/>
<path d="M467.5 271.3L470.8 277.9L464.2 277.9Z"/>
<path d="M476.4 270.3L479.7 276.9L473.1 276.9Z"/>
<path d="M485.3 269.7L488.6 276.3L482 276.3Z"/>
<path d="M494.2 269.1L497.5 275.7L490.9 275.7Z"/>
<path d="M503.1 268.1L506.4 274.7L499.8 274.7Z"/>
<path d="M512 267.3L515.3 273.9L508.7 273.9Z"/>
<path d="M520.9 266.3L524.2 272.9L517.6 272.9Z"/>
<path d="M529.8 265.7L533.1 272.3L526.5 272.3Z"/>
<path d="M538.7 264.7L542 271.3L535.4 271.3Z"/>
<path d="M547.6 264.3L550.9 270.9L544.3 270.9Z"/>
<path d="M556.5 263.5L559.8 270.1L553.2 270.1Z"/>
<path d="M565.4 263.1L568.7 269.7L562.1 269.7Z"/>
<path d="M574.3 262.3L577.6 268.9L571 268.9Z"/>
<path d="M583.2 261.3L586.5 267.9L579.9 267.9Z"/>
<path d="M592.1 260.7L595.4 267.3L588.8 267.3Z"/>
<path d="M601 260.1L604.3 266.7L597.7 266.7Z"/>
<path d="M609.9 259.7L613.2 266.3L606.6 266.3Z"/>
<path d="M618.8 258.7L622.1 265.3L615.5 265.3Z"/>
<path d="M627.7 258.1L631 264.7L624.4 264.7Z"/>
<path d="M636.6 257.3L639.9 263.9L633.3 263.9Z"/>
<path d="M645.5 256.3L648.8 262.9L642.2 262.9Z"/>
<path d="M654.4 256.1L657.7 262.7L651.1 262.7Z"/>
<path d="M663.3 255.7L666.6 262.3L660 262.3Z"/>
<path d="M672.2 255.1L675.5 261.7L668.9 261.7Z"/>
<path d="M681.1 254.7L684.4 261.3L677.8 261.3Z"/>
<path d="M690 254.5L693.3 261.1L686.7 261.1Z"/>
<path d="M698.9 254.3L702.2 260.9L695.6 260.9Z"/>
<path d="M707.8 253.2L711.1 259.8L704.5 259.8Z"/>
<path d="M716.7 252.3L720 258.9L713.4 258.9Z"/>
<path d="M725.6 252.1L728.9 258.7L722.3 258.7Z"/>
<path d="M734.5 251.1L737.8 257.7L731.2 257.7Z"/>
<path d="M743.4 250.3L746.7 256.9L740.1 256.9Z"/>
<path d="M752.3 249.7L755.6 256.3L749 256.3Z"/>
<path d="M761.2 51.9L764.5 58.5L757.9 58.5Z"/>
<path d="M770.1 110.3L773.4 116.9L766.8 116.9Z"/>
<path d="M779 107.7L782.3 114.3L775.7 114.3Z"/>
<path d="M787.9 105.7L791.2 112.3L784.6 112.3Z"/>
</g>
<g fill="#5555FF" fill-opacity="0.7" stroke="#5555FF" stroke-opacity="0.7" stroke-width="1">
<circle cx="120.4" cy="327.5" r="3"/>
<circle cx="129.3" cy="323.8" r="3"/>
<circle cx="138.2" cy="320.7" r="3"/>
<circle cx="147.1" cy="318" r="3"/>
<circle cx="156" cy="318" r="3"/>
<circle cx="164.9" cy="315.4" r="3"/>
<circle cx="173.8" cy="315.4" r="3"/>
<circle cx="182.7" cy="315.4" r="3"/>
<circle cx="191.6" cy="315.4" r="3"/>
<circle cx="200.5" cy="315.4" r="3"/>
<circle cx="209.4" cy="315.4" r="3"/>
<circle cx="218.3" cy="313" r="3"/>
<circle cx="227.2" cy="313" r="3"/>
<circle cx="236.1" cy="313" r="3"/>
<circle cx="245" cy="313" r="3"/>
<circle cx="253.9" cy="313" r="3"/>
<circle cx="262.8" cy="313" r="3"/>
<circle cx="271.7" cy="311" r="3"/>
<circle cx="280.6" cy="311" r="3"/>
<circle cx="289.5" cy="311" r="3"/>
<circle cx="298.4" cy="311" r="3"/>
<circle cx="307.3" cy="311" r="3"/>
<circle cx="316.2" cy="311" r="3"/>
<circle cx="325.1" cy="309" r="3"/>
<circle cx="334" cy="309" r="3"/>
<circle cx="342.9" cy="309" r="3"/>
<circle cx="351.8" cy="309" r="3"/>
<circle cx="360.7" cy="309" r="3"/>
<circle cx="369.6" cy="307" r="3"/>
<circle cx="378.5" cy="307" r="3"/>
<circle cx="387.4" cy="307" r="3"/>
<circle cx="396.3" cy="307" r="3"/>
<circle cx="405.2" cy="307" r="3"/>
<circle cx="414.1" cy="306" r="3"/>
<circle cx="423" cy="304.6" r="3"/>
<circle cx="431.9" cy="304.6" r="3"/>
<circle cx="440.8" cy="304.6" r="3"/>
<circle cx="449.7" cy="306" r="3"/>
<circle cx="458.6" cy="304.6" r="3"/>
<circle cx="467.5" cy="304.6" r="3"/>
<circle cx="476.4" cy="304.6" r="3"/>
<circle cx="485.3" cy="304.6" r="3"/>
<circle cx="494.2" cy="303.4" r="3"/>
<circle cx="503.1" cy="303.4" r="3"/>
<circle cx="512" cy="303.4" r="3"/>
<circle cx="520.9" cy="303.4" r="3"/>
<circle cx="529.8" cy="302.2" r="3"/>
<circle cx="538.7" cy="302.2" r="3"/>
<circle cx="547.6" cy="302.2" r="3"/>
<circle cx="556.5" cy="302.4" r="3"/>
<circle cx="565.4" cy="301" r="3"/>
<circle cx="574.3" cy="301" r="3"/>
<circle cx="583.2" cy="299.6" r="3"/>
<circle cx="592.1" cy="299.6" r="3"/>
<circle cx="601" cy="299.6" r="3"/>
<circle cx="609.9" cy="298.4" r="3"/>
<circle cx="618.8" cy="297" r="3"/>
<circle cx="627.7" cy="297" r="3"/>
<circle cx="636.6" cy="296" r="3"/>
<circle cx="645.5" cy="294.6" r="3"/>
<circle cx="654.4" cy="293.6" r="3"/>
<circle cx="663.3" cy="293.6" r="3"/>
<circle cx="672.2" cy="292" r="3"/>
<circle cx="681.1" cy="292" r="3"/>
<circle cx="690" cy="292" r="3"/>
<circle cx="698.9" cy="292.2" r="3"/>
<circle cx="707.8" cy="289.6" r="3"/>
<circle cx="716.7" cy="288.4" r="3"/>
<circle cx="725.6" cy="287.6" r="3"/>
<circle cx="734.5" cy="284.6" r="3"/>
<circle cx="743.4" cy="282" r="3"/>
<circle cx="752.3" cy="281" r="3"/>
<circle cx="761.2" cy="92.6" r="3"/>
<circle cx="770.1" cy="137.4" r="3"/>
<circle cx="779" cy="136.6" r="3"/>
<circle cx="787.9" cy="132" r="3"/>
</g>
<g fill="#FF5555" fill-opacity="0.7" stroke="#FF5555" stroke-opacity="0.7" stroke-width="1">
<rect x="758.2" y="185.4" width="6" height="6"/>
<rect x="784.9" y="186" width="6" height="6"/>
</g>
</g>
<path d="M674.5 10.5V327.5" stroke="#FFC800" stroke-width="2.1" fill="none"/>
<path d="M752.4 10.5V327.5" stroke="#FF0000" stroke-width="2.1" fill="none"/>
<rect x="94.5" y="10.5" width="694" height="317" fill="none" stroke="#6c6c6c" stroke-width="1"/>
<g stroke="#a8a8a8" stroke-width="1" fill="none">
<path d="M90.5 10V328"/>
<path d="M94 331.5H789"/>
</g>
<path d="M88 317.5H90.5M88 257.5H90.5M88 197.5H90.5M88 136.5H90.5M88 76.5H90.5M88 16.5H90.5" stroke="#949494" stroke-width="1" fill="none"/>
<path d="M88 299.5H90.5M88 289.5H90.5M88 281.5H90.5M88 275.5H90.5M88 270.5H90.5M88 266.5H90.5M88 263.5H90.5M88 260.5H90.5M88 239.5H90.5M88 228.5H90.5M88 221.5H90.5M88 215.5H90.5M88 210.5H90.5M88 206.5H90.5M88 203.5H90.5M88 199.5H90.5M88 179.5H90.5M88 168.5H90.5M88 160.5H90.5M88 154.5H90.5M88 150.5H90.5M88 146.5H90.5M88 142.5H90.5M88 139.5H90.5M88 118.5H90.5M88 108.5H90.5M88 100.5H90.5M88 94.5H90.5M88 89.5H90.5M88 85.5H90.5M88 82.5H90.5M88 79.5H90.5M88 58.5H90.5M88 47.5H90.5M88 40.5H90.5M88 34.5H90.5M88 29.5H90.5M88 25.5H90.5M88 21.5H90.5M88 18.5H90.5" stroke="#a8a8a8" stroke-width="1" fill="none"/>
<path d="M94.3 331.5V333.8M184.5 331.5V333.8M275.5 331.5V333.8M366.5 331.5V333.8M456.5 331.5V333.8M547.5 331.5V333.8M638.5 331.5V333.8M729.5 331.5V333.8" stroke="#555" stroke-width="1" fill="none"/>
<g font-size="10.2" fill="#000" stroke="#000" stroke-width="0.15" text-anchor="end">
<text x="84.3" y="321" textLength="23.8" lengthAdjust="spacingAndGlyphs">1000</text>
<text x="84.3" y="261" textLength="29.8" lengthAdjust="spacingAndGlyphs">10000</text>
<text x="84.3" y="201" textLength="35.8" lengthAdjust="spacingAndGlyphs">100000</text>
<text x="84.3" y="140" textLength="41.8" lengthAdjust="spacingAndGlyphs">1000000</text>
<text x="84.3" y="80" textLength="47.8" lengthAdjust="spacingAndGlyphs">10000000</text>
<text x="84.3" y="20" textLength="53.8" lengthAdjust="spacingAndGlyphs">100000000</text>
</g>
<g font-size="12.4" fill="#404040" text-anchor="middle">
<text x="94.3" y="346">0</text>
<text x="184.7" y="346" textLength="51.6" lengthAdjust="spacingAndGlyphs">100,000</text>
<text x="275" y="346" textLength="51.6" lengthAdjust="spacingAndGlyphs">200,000</text>
<text x="366.1" y="346" textLength="51.6" lengthAdjust="spacingAndGlyphs">300,000</text>
<text x="457.5" y="346" textLength="51.6" lengthAdjust="spacingAndGlyphs">400,000</text>
<text x="547.9" y="346" textLength="51.6" lengthAdjust="spacingAndGlyphs">500,000</text>
<text x="637.9" y="346" textLength="51.6" lengthAdjust="spacingAndGlyphs">600,000</text>
<text x="728.9" y="346" textLength="51.6" lengthAdjust="spacingAndGlyphs">700,000</text>
</g>
<text x="440.4" y="364.8" font-size="13.5" font-weight="bold" fill="#404040" text-anchor="middle" textLength="37" lengthAdjust="spacingAndGlyphs">jOPS</text>
<text transform="translate(22.3 168) rotate(-90)" font-size="12.4" fill="#000" text-anchor="middle" textLength="130" lengthAdjust="spacingAndGlyphs">Response time, usec</text>
<rect x="131.5" y="377.5" width="538" height="21" fill="#fff" stroke="#000" stroke-width="1"/>
<g fill="#FF5555"><rect x="138" y="384.7" width="7" height="7"/></g>
<g fill="#5555FF"><circle cx="187.7" cy="388.2" r="3.5"/></g>
<g fill="#55FF55"><path d="M257.5 384.3L261.2 391.7L253.8 391.7Z"/></g>
<g fill="#FFFF55"><path d="M381.4 384.4L385.2 388.2L381.4 392L377.6 388.2Z"/></g>
<rect x="502" y="386" width="7" height="4" fill="#FF55FF"/>
<g fill="#55FFFF"><path d="M625.7 384.5L633.1 384.5L629.4 391.9Z"/></g>
<g font-size="12.3" fill="#333333">
<text x="152.7" y="392" textLength="22.5" lengthAdjust="spacingAndGlyphs">min</text>
<text x="198.8" y="392" textLength="46.4" lengthAdjust="spacingAndGlyphs">median</text>
<text x="269.2" y="392" textLength="99.7" lengthAdjust="spacingAndGlyphs">90-th percentile</text>
<text x="393" y="392" textLength="100.2" lengthAdjust="spacingAndGlyphs">95-th percentile</text>
<text x="517.2" y="392" textLength="99.8" lengthAdjust="spacingAndGlyphs">99-th percentile</text>
<text x="640.5" y="392" textLength="26.5" lengthAdjust="spacingAndGlyphs">max</text>
</g>
</svg></body></html>
